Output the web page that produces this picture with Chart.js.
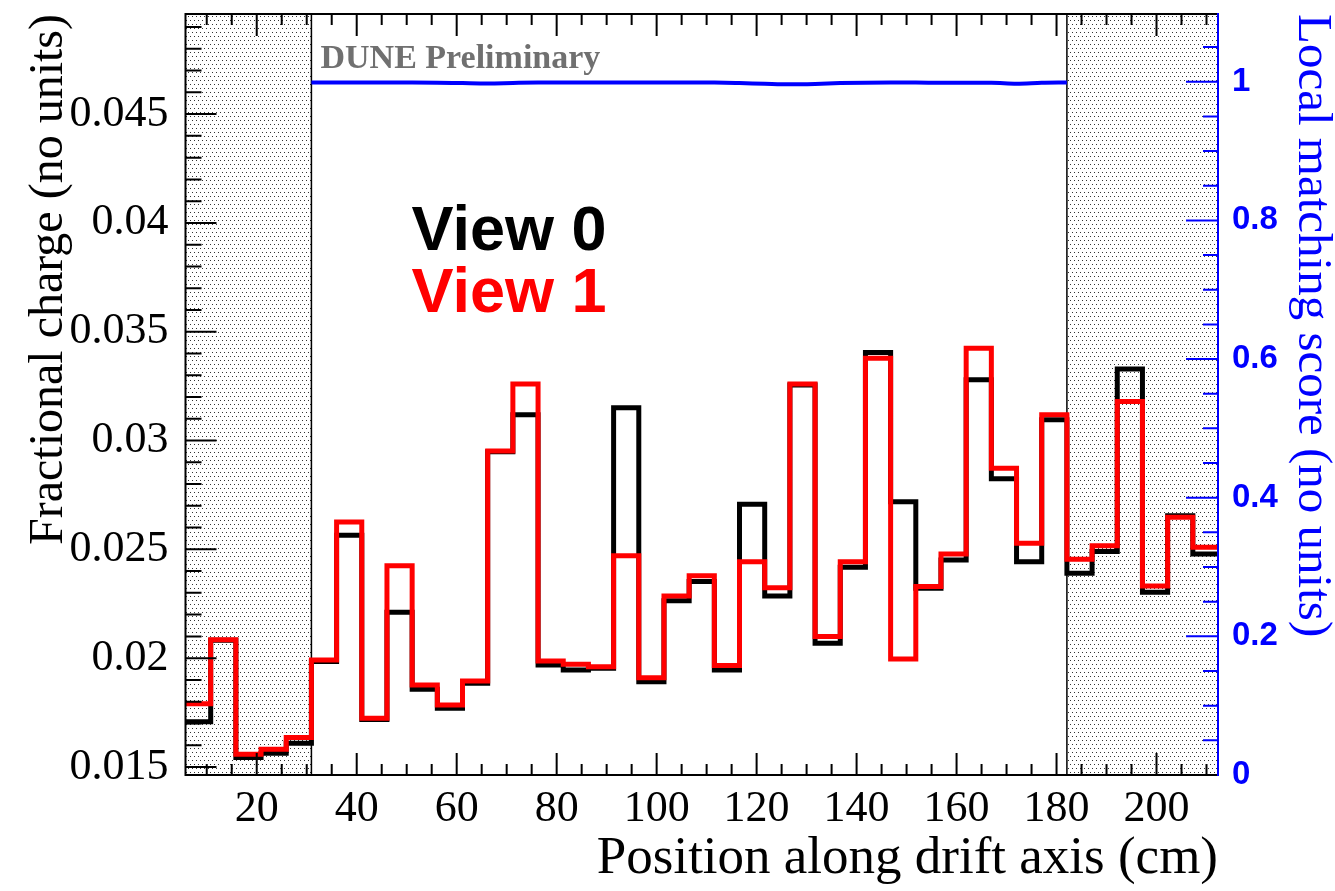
<!DOCTYPE html>
<html>
<head>
<meta charset="utf-8">
<script src="https://cdn.jsdelivr.net/npm/chart.js@4.4.0/dist/chart.umd.min.js"></script>
<style>
  html, body { margin: 0; padding: 0; background: #fff; }
  #wrap { width: 1335px; height: 891px; }
</style>
</head>
<body>
<div id="wrap"><canvas id="chart" width="1335" height="891"></canvas></div>
<script>
// binning of the drift axis (cm), 41 bins
const xMin = 5.75;
const xMax = 212.3;
const nBins = 41;

// fractional charge per bin
const view0 = [0.01708, 0.02082, 0.01543, 0.01563, 0.01609, 0.01985, 0.02565, 0.01718, 0.02211, 0.01857,
               0.01770, 0.01885, 0.02948, 0.03118, 0.01969, 0.01946, 0.01954, 0.03151, 0.01892, 0.02264,
               0.02352, 0.01946, 0.02707, 0.02286, 0.03255, 0.02068, 0.02418, 0.03404, 0.02719, 0.02321,
               0.02451, 0.03279, 0.02824, 0.02443, 0.03095, 0.02390, 0.02490, 0.03329, 0.02303, 0.02654,
               0.02479];
const view1 = [0.01790, 0.02084, 0.01558, 0.01581, 0.01635, 0.01992, 0.02626, 0.01724, 0.02424, 0.01877,
               0.01785, 0.01895, 0.02952, 0.03260, 0.01987, 0.01972, 0.01961, 0.02471, 0.01910, 0.02286,
               0.02379, 0.01966, 0.02443, 0.02324, 0.03260, 0.02099, 0.02443, 0.03378, 0.01996, 0.02329,
               0.02479, 0.03424, 0.02873, 0.02528, 0.03118, 0.02455, 0.02516, 0.03179, 0.02332, 0.02648,
               0.02510];

// local matching score, at bin edges 5..35 (the non shaded region)
const scoreFirstEdge = 5;
const matchScore = [0.9990, 0.9990, 0.9990, 0.9988, 0.9988, 0.9986, 0.9980, 0.9975, 0.9982, 0.9988,
                    0.9990, 0.9990, 0.9990, 0.9990, 0.9990, 0.9990, 0.9988, 0.9980, 0.9970, 0.9962,
                    0.9968, 0.9980, 0.9986, 0.9988, 0.9988, 0.9986, 0.9986, 0.9986, 0.9972, 0.9985,
                    0.9990];

// tick labels
const xTicks = [20, 40, 60, 80, 100, 120, 140, 160, 180, 200];
const yTicks = [0.015, 0.02, 0.025, 0.03, 0.035, 0.04, 0.045];
const scoreTicks = [0, 0.2, 0.4, 0.6, 0.8, 1];

const binWidth = (xMax - xMin) / nBins;
const edges = [];
for (let i = 0; i <= nBins; i++) edges.push(xMin + i * binWidth);
const activeRange = [edges[5], edges[35]];

// histogram outline: one point per lower edge, plus the last upper edge
const histPoints = vals => edges.map((x, i) => ({ x: x, y: vals[Math.min(i, vals.length - 1)] }));
const scorePoints = matchScore.map((v, i) => ({ x: edges[scoreFirstEdge + i], y: v }));

const serif = '"Liberation Serif", "Times New Roman", serif';
const sans = '"Liberation Sans", Arial, sans-serif';

// dotted fill for the shaded regions
const tile = document.createElement('canvas');
tile.width = 4; tile.height = 8;
const tctx = tile.getContext('2d');
tctx.fillStyle = '#333';
tctx.fillRect(0, 0, 1, 1);
tctx.fillRect(2, 4, 1, 1);

// keep the plot frame where it is, whatever the label sizes
const noPad = s => { s.paddingTop = 0; s.paddingBottom = 0; s.paddingLeft = 0; s.paddingRight = 0; };

const decorations = {
    id: 'decorations',
    beforeDatasetsDraw(chart) {
        const { ctx, chartArea: a, scales: { x } } = chart;
        const l = x.getPixelForValue(activeRange[0]);
        const r = x.getPixelForValue(activeRange[1]);
        ctx.save();
        ctx.fillStyle = ctx.createPattern(tile, 'repeat');
        ctx.fillRect(a.left, a.top, l - a.left, a.bottom - a.top);
        ctx.fillRect(r, a.top, a.right - r, a.bottom - a.top);
        ctx.strokeStyle = '#000';
        ctx.lineWidth = 1.5;
        ctx.beginPath();
        ctx.moveTo(l, a.top); ctx.lineTo(l, a.bottom);
        ctx.moveTo(r, a.top); ctx.lineTo(r, a.bottom);
        ctx.stroke();
        ctx.restore();
    },
    afterDraw(chart) {
        const { ctx, chartArea: a, scales: { x, y, y1 } } = chart;
        ctx.save();
        ctx.lineWidth = 2;

        // x ticks, bottom and top
        ctx.strokeStyle = '#000';
        ctx.beginPath();
        for (let v = 10; v <= 210; v += 5) {
            const px = x.getPixelForValue(v);
            const len = v % 20 === 0 ? 22 : 11;
            ctx.moveTo(px, a.bottom); ctx.lineTo(px, a.bottom - len);
            ctx.moveTo(px, a.top); ctx.lineTo(px, a.top + len);
        }
        // left y ticks
        for (let k = 15; k <= 49; k++) {
            const py = y.getPixelForValue(k / 1000);
            const len = k % 5 === 0 ? 31 : 16;
            ctx.moveTo(a.left, py); ctx.lineTo(a.left + len, py);
        }
        ctx.stroke();

        // right axis ticks
        ctx.strokeStyle = '#0000ff';
        ctx.beginPath();
        for (let k = 0; k <= 21; k++) {
            const py = y1.getPixelForValue(k * 0.05);
            const len = k % 4 === 0 ? 32 : 15;
            ctx.moveTo(a.right, py); ctx.lineTo(a.right - len, py);
        }
        ctx.stroke();

        // frame
        ctx.strokeStyle = '#000';
        ctx.beginPath();
        ctx.moveTo(a.right, a.top); ctx.lineTo(a.left, a.top);
        ctx.lineTo(a.left, a.bottom); ctx.lineTo(a.right, a.bottom);
        ctx.stroke();
        ctx.strokeStyle = '#0000ff';
        ctx.beginPath();
        ctx.moveTo(a.right, a.top - 1); ctx.lineTo(a.right, a.bottom + 1);
        ctx.stroke();

        // labels inside the frame
        ctx.textBaseline = 'alphabetic';
        ctx.textAlign = 'left';
        ctx.fillStyle = '#707070';
        ctx.font = 'bold 34px ' + serif;
        ctx.fillText('DUNE Preliminary', a.left + 135, 68);
        ctx.font = 'bold 63px ' + sans;
        ctx.fillStyle = '#000';
        ctx.fillText('View 0', a.left + 226, 250);
        ctx.fillStyle = '#ff0000';
        ctx.fillText('View 1', a.left + 226, 312);
        ctx.restore();
    }
};

const histStyle = {
    type: 'line',
    stepped: true,
    borderWidth: 5,
    pointRadius: 0,
    fill: false,
    tension: 0,
    borderJoinStyle: 'miter',
    borderCapStyle: 'butt',
    yAxisID: 'y'
};

new Chart(document.getElementById('chart').getContext('2d'), {
    type: 'line',
    data: {
        datasets: [
            Object.assign({}, histStyle, { label: 'View 0', data: histPoints(view0), borderColor: '#000000', order: 3 }),
            Object.assign({}, histStyle, { label: 'View 1', data: histPoints(view1), borderColor: '#ff0000', order: 2 }),
            {
                label: 'Local matching score',
                data: scorePoints,
                borderColor: '#0000ff',
                borderWidth: 4,
                pointRadius: 0,
                fill: false,
                cubicInterpolationMode: 'monotone',
                yAxisID: 'y1',
                order: 1
            }
        ]
    },
    plugins: [decorations],
    options: {
        responsive: false,
        animation: false,
        devicePixelRatio: 1,
        layout: { padding: { top: 14, left: 0, right: 0, bottom: 0 } },
        plugins: { legend: { display: false }, tooltip: { enabled: false } },
        scales: {
            x: {
                type: 'linear',
                min: xMin,
                max: xMax,
                afterBuildTicks: s => { s.ticks = xTicks.map(v => ({ value: v })); },
                afterFit: s => { s.height = 116; noPad(s); },
                grid: { display: false },
                border: { display: false },
                ticks: { font: { family: serif, size: 44 }, color: '#000', padding: 0, maxRotation: 0, autoSkip: false },
                title: {
                    display: true, text: 'Position along drift axis (cm)', align: 'end',
                    font: { family: serif, size: 53 }, color: '#000', padding: 0
                }
            },
            y: {
                type: 'linear',
                position: 'left',
                min: 0.01463,
                max: 0.0496,
                afterBuildTicks: s => { s.ticks = yTicks.map(v => ({ value: v })); },
                afterFit: s => { s.width = 185.5; noPad(s); },
                grid: { display: false },
                border: { display: false },
                ticks: {
                    font: { family: serif, size: 44 }, color: '#000', padding: 9, autoSkip: false,
                    callback: v => String(+v.toFixed(3))
                },
                title: {
                    display: true, text: 'Fractional charge (no units)', align: 'end',
                    font: { family: serif, size: 48 }, color: '#000', padding: { top: 21, bottom: 0 }
                }
            },
            y1: {
                type: 'linear',
                position: 'right',
                min: 0,
                max: 1.0977,
                afterBuildTicks: s => { s.ticks = scoreTicks.map(v => ({ value: v })); },
                afterFit: s => { s.width = 117; noPad(s); },
                grid: { display: false },
                border: { display: false },
                ticks: {
                    font: { family: sans, size: 33, weight: 'bold' }, color: '#0000ff', padding: 6, autoSkip: false,
                    callback: v => String(+v.toFixed(1))
                },
                title: {
                    display: true, text: 'Local matching score (no units)', align: 'end',
                    font: { family: serif, size: 49 }, color: '#0000ff', padding: { top: -6, bottom: 0 }
                }
            }
        }
    }
});
</script>
</body>
</html>
